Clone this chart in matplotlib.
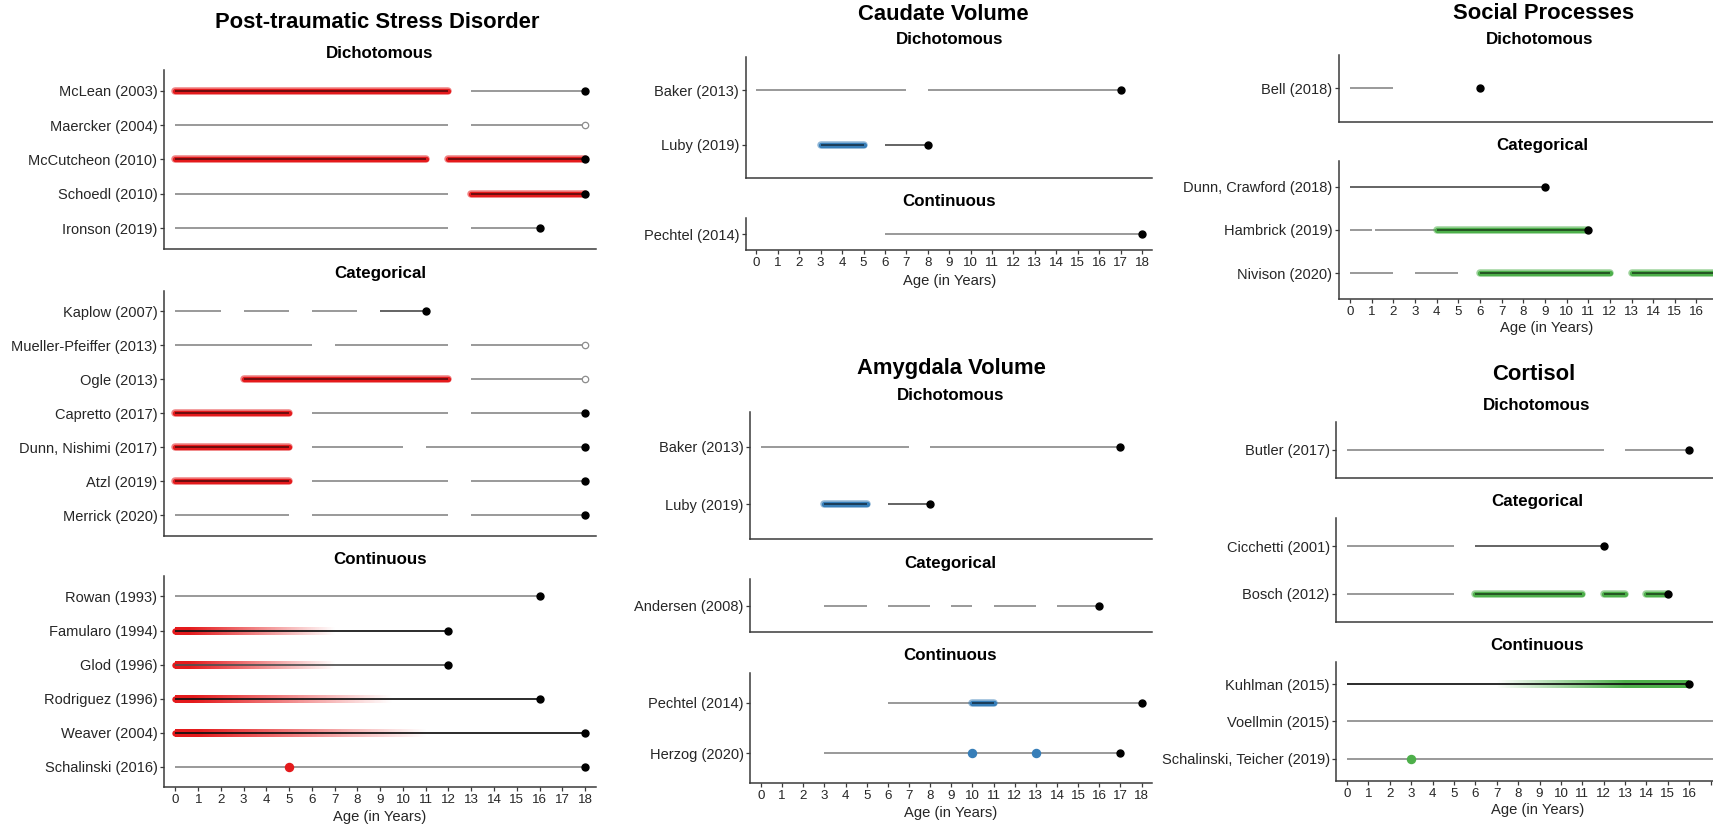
import numpy as np
import matplotlib
matplotlib.use("Agg")
import matplotlib.pyplot as plt
from matplotlib.collections import LineCollection
from matplotlib.colors import to_rgb

# ---------------------------------------------------------------------------
# Study timelines: each row lists its segments as (start_age, end_age, kind)
#   kind: "hit"  -> sensitive-period window (thick coloured band)
#         "gray" -> assessed age range, "dark" / "black" -> darker range lines
# ends: (age, "filled" | "open") marker at the age of outcome assessment
# ---------------------------------------------------------------------------

# Post-traumatic Stress Disorder
ptsd_dich_labels = ["McLean (2003)", "Maercker (2004)", "McCutcheon (2010)",
                    "Schoedl (2010)", "Ironson (2019)"]
ptsd_dich_segments = [
    [(0, 12, "hit"), (13, 18, "gray")],
    [(0, 12, "gray"), (13, 18, "gray")],
    [(0, 11, "hit"), (12, 18, "hit")],
    [(0, 12, "gray"), (13, 18, "hit")],
    [(0, 12, "gray"), (13, 16, "gray")],
]
ptsd_dich_ends = [(18, "filled"), (18, "open"), (18, "filled"), (18, "filled"), (16, "filled")]

ptsd_cat_labels = ["Kaplow (2007)", "Mueller-Pfeiffer (2013)", "Ogle (2013)",
                   "Capretto (2017)", "Dunn, Nishimi (2017)", "Atzl (2019)", "Merrick (2020)"]
ptsd_cat_segments = [
    [(0, 2, "gray"), (3, 5, "gray"), (6, 8, "gray"), (9, 11, "dark")],
    [(0, 6, "gray"), (7, 12, "gray"), (13, 18, "gray")],
    [(3, 12, "hit"), (13, 18, "gray")],
    [(0, 5, "hit"), (6, 12, "gray"), (13, 18, "gray")],
    [(0, 5, "hit"), (6, 10, "gray"), (11, 18, "gray")],
    [(0, 5, "hit"), (6, 12, "gray"), (13, 18, "gray")],
    [(0, 5, "gray"), (6, 12, "gray"), (13, 18, "gray")],
]
ptsd_cat_ends = [(11, "filled"), (18, "open"), (18, "open"), (18, "filled"),
                 (18, "filled"), (18, "filled"), (18, "filled")]

ptsd_cont_labels = ["Rowan (1993)", "Famularo (1994)", "Glod (1996)",
                    "Rodriguez (1996)", "Weaver (2004)", "Schalinski (2016)"]
ptsd_cont_segments = [
    [(0, 16, "gray")],
    [(0, 12, "black")],
    [(0, 12, "dark")],
    [(0, 16, "black")],
    [(0, 18, "black")],
    [(0, 18, "gray")],
]
ptsd_cont_ends = [(16, "filled"), (12, "filled"), (12, "filled"),
                  (16, "filled"), (18, "filled"), (18, "filled")]
# fading windows: (solid_from, solid_to, transparent_at)
ptsd_cont_fades = [None, (0, 0.6, 7), (0, 0.6, 7), (0, 0.8, 9.5), (0, 1.0, 11), None]
ptsd_cont_points = [[], [], [], [], [], [5]]

# Caudate Volume
caud_dich_labels = ["Baker (2013)", "Luby (2019)"]
caud_dich_segments = [
    [(0, 7, "gray"), (8, 17, "gray")],
    [(3, 5, "hit"), (6, 8, "dark")],
]
caud_dich_ends = [(17, "filled"), (8, "filled")]

caud_cont_labels = ["Pechtel (2014)"]
caud_cont_segments = [[(6, 18, "gray")]]
caud_cont_ends = [(18, "filled")]

# Amygdala Volume
amyg_dich_labels = ["Baker (2013)", "Luby (2019)"]
amyg_dich_segments = [
    [(0, 7, "gray"), (8, 17, "gray")],
    [(3, 5, "hit"), (6, 8, "dark")],
]
amyg_dich_ends = [(17, "filled"), (8, "filled")]

amyg_cat_labels = ["Andersen (2008)"]
amyg_cat_segments = [[(3, 5, "gray"), (6, 8, "gray"), (9, 10, "gray"),
                      (11, 13, "gray"), (14, 16, "gray")]]
amyg_cat_ends = [(16, "filled")]

amyg_cont_labels = ["Pechtel (2014)", "Herzog (2020)"]
amyg_cont_segments = [
    [(6, 18, "gray"), (10, 11, "hit")],
    [(3, 17, "gray")],
]
amyg_cont_ends = [(18, "filled"), (17, "filled")]
amyg_cont_points = [[], [10, 13]]

# Social Processes
soc_dich_labels = ["Bell (2018)"]
soc_dich_segments = [[(0, 2, "gray")]]
soc_dich_ends = [(6, "filled")]

soc_cat_labels = ["Dunn, Crawford (2018)", "Hambrick (2019)", "Nivison (2020)"]
soc_cat_segments = [
    [(0, 9, "dark")],
    [(0, 1, "gray"), (1.15, 4, "gray"), (4, 11, "hit")],
    [(0, 2, "gray"), (3, 5, "gray"), (6, 12, "hit"), (13, 18, "hit")],
]
soc_cat_ends = [(9, "filled"), (11, "filled"), (18, "filled")]

# Cortisol
cort_dich_labels = ["Butler (2017)"]
cort_dich_segments = [[(0, 12, "gray"), (13, 16, "gray")]]
cort_dich_ends = [(16, "filled")]

cort_cat_labels = ["Cicchetti (2001)", "Bosch (2012)"]
cort_cat_segments = [
    [(0, 5, "gray"), (6, 12, "dark")],
    [(0, 5, "gray"), (6, 11, "hit"), (12, 13, "hit"), (14, 15, "hit")],
]
cort_cat_ends = [(12, "filled"), (15, "filled")]

cort_cont_labels = ["Kuhlman (2015)", "Voellmin (2015)", "Schalinski, Teicher (2019)"]
cort_cont_segments = [
    [(0, 16, "black")],
    [(0, 18, "gray")],
    [(0, 18, "gray")],
]
cort_cont_ends = [(16, "filled"), (18, "filled"), (18, "filled")]
cort_cont_fades = [(16, 13, 7), None, None]
cort_cont_points = [[], [], [3]]

age_ticks = list(range(0, 19))

# ---------------------------------------------------------------------------
W, H, DPI = 1713, 827, 100
plt.rcParams["font.family"] = ["Liberation Sans", "DejaVu Sans"]

RED, BLUE, GREEN = "#E41A1C", "#377EB8", "#4DAF4A"
LINE_COLORS = {"gray": "#8C8C8C", "dark": "#505050", "black": "#111111"}
AXIS_COLOR = "#3A3A3A"
TEXT_COLOR = "#262626"
XMIN, XMAX = -0.5, 18.47

TITLE_SIZE, SUB_SIZE, YLAB_SIZE, XTICK_SIZE, XLAB_SIZE = 15.8, 12.2, 10.5, 9.6, 10.6
FADE_LW = 4.6  # points

fig = plt.figure(figsize=(W / DPI, H / DPI), dpi=DPI)


def px_box(left, top, right, bottom):
    return [left / W, 1 - bottom / H, (right - left) / W, (bottom - top) / H]


def put_text(x, y, s, size, bold=False, color="black"):
    fig.text(x / W, 1 - y / H, s, ha="center", va="center", fontsize=size,
             fontweight="bold" if bold else "normal", color=color)


def draw_fade(ax, y, fade, hue):
    """Band that is opaque from a to b and fades out linearly towards c."""
    a, b, c = fade
    rgb = to_rgb(hue)
    xs = np.linspace(a, c, 240)
    mids = (xs[:-1] + xs[1:]) / 2
    span = abs(c - b)
    dist = np.clip((np.abs(mids - a) - abs(b - a)) / span, 0, 1)
    segs = [[(xs[i], y), (xs[i + 1], y)] for i in range(len(xs) - 1)]
    cols = [(rgb[0], rgb[1], rgb[2], 1 - d) for d in dist]
    # no antialiasing so the short pieces join without seams
    ax.add_collection(LineCollection(segs, colors=cols, linewidths=FADE_LW,
                                     capstyle="butt", antialiaseds=False, zorder=2))
    # rounded end on the opaque side
    ax.plot(a, y, "o", ms=FADE_LW, color=hue, mew=0, zorder=2)


def draw_panel(box, labels, segments, ends, hue, fades=None, points=None,
               show_x=False, last_label=18):
    ax = fig.add_axes(px_box(*box))
    n = len(labels)
    ys = np.arange(n, 0, -1)
    for i, y in enumerate(ys):
        if fades is not None and fades[i] is not None:
            draw_fade(ax, y, fades[i], hue)
        for x0, x1, kind in segments[i]:
            if kind == "hit":
                ax.plot([x0, x1], [y, y], color=hue, lw=5.4, alpha=0.55,
                        solid_capstyle="round", zorder=3)
                ax.plot([x0, x1], [y, y], color=hue, lw=3.8,
                        solid_capstyle="round", zorder=3)
                ax.plot([x0, x1], [y, y], color="black", lw=1.2, alpha=0.6,
                        solid_capstyle="butt", zorder=4)
            else:
                ax.plot([x0, x1], [y, y], color=LINE_COLORS[kind], lw=1.25,
                        solid_capstyle="butt", zorder=3)
        if points is not None:
            for px in points[i]:
                ax.plot(px, y, "o", ms=5.8, color=hue, mec=hue, zorder=5)
        ex, kind = ends[i]
        if kind == "filled":
            ax.plot(ex, y, "o", ms=5.0, color="black", mec="black", zorder=6)
        elif kind == "open":
            ax.plot(ex, y, "o", ms=4.6, mfc="white", mec="#8C8C8C", mew=0.9, zorder=6)

    ax.set_xlim(XMIN, XMAX)
    ax.set_ylim(0.4, n + 0.6)
    ax.set_yticks(ys)
    ax.set_yticklabels(labels, fontsize=YLAB_SIZE, color=TEXT_COLOR)
    ax.set_xticks(age_ticks)
    ax.set_xticklabels([str(v) if v <= last_label else "" for v in age_ticks],
                       fontsize=XTICK_SIZE, color=TEXT_COLOR)
    for side in ("top", "right"):
        ax.spines[side].set_visible(False)
    for side in ("left", "bottom"):
        ax.spines[side].set_color(AXIS_COLOR)
        ax.spines[side].set_linewidth(1.1)
    ax.tick_params(axis="y", length=2.8, width=0.9, color=AXIS_COLOR, pad=2.0)
    ax.tick_params(axis="x", length=2.8, width=0.9, color=AXIS_COLOR, pad=2.0)
    if not show_x:
        ax.tick_params(axis="x", bottom=False, labelbottom=False)
    ax.set_facecolor("none")
    return ax


# ---- Post-traumatic Stress Disorder -------------------------------------
L, R = 164.1, 595.7
draw_panel((L, 70, R, 249), ptsd_dich_labels, ptsd_dich_segments, ptsd_dich_ends, RED)
draw_panel((L, 290.7, R, 535.7), ptsd_cat_labels, ptsd_cat_segments, ptsd_cat_ends, RED)
draw_panel((L, 576, R, 787.3), ptsd_cont_labels, ptsd_cont_segments, ptsd_cont_ends, RED,
           fades=ptsd_cont_fades, points=ptsd_cont_points, show_x=True)
put_text(377.5, 22, "Post-traumatic Stress Disorder", TITLE_SIZE, bold=True)
put_text(380, 53, "Dichotomous", SUB_SIZE, bold=True)
put_text(380, 273.5, "Categorical", SUB_SIZE, bold=True)
put_text(380, 560, "Continuous", SUB_SIZE, bold=True)
put_text(380, 816.7, "Age (in Years)", XLAB_SIZE, color=TEXT_COLOR)

# ---- Caudate Volume -------------------------------------------------------
L, R = 745.7, 1152.1
draw_panel((L, 57.3, R, 177.7), caud_dich_labels, caud_dich_segments, caud_dich_ends, BLUE)
draw_panel((L, 218.3, R, 250), caud_cont_labels, caud_cont_segments, caud_cont_ends, BLUE,
           show_x=True)
put_text(943.5, 15, "Caudate Volume", TITLE_SIZE, bold=True)
put_text(949.4, 40, "Dichotomous", SUB_SIZE, bold=True)
put_text(949.4, 201.7, "Continuous", SUB_SIZE, bold=True)
put_text(949.8, 281, "Age (in Years)", XLAB_SIZE, color=TEXT_COLOR)

# ---- Amygdala Volume ------------------------------------------------------
L, R = 750.4, 1151.5
draw_panel((L, 412.3, R, 538.7), amyg_dich_labels, amyg_dich_segments, amyg_dich_ends, BLUE)
draw_panel((L, 579.3, R, 631.7), amyg_cat_labels, amyg_cat_segments, amyg_cat_ends, BLUE)
draw_panel((L, 672.7, R, 783.3), amyg_cont_labels, amyg_cont_segments, amyg_cont_ends, BLUE,
           points=amyg_cont_points, show_x=True)
put_text(951.9, 368.3, "Amygdala Volume", TITLE_SIZE, bold=True)
put_text(950.3, 395.7, "Dichotomous", SUB_SIZE, bold=True)
put_text(950.3, 563.3, "Categorical", SUB_SIZE, bold=True)
put_text(950.3, 656, "Continuous", SUB_SIZE, bold=True)
put_text(950.3, 813.3, "Age (in Years)", XLAB_SIZE, color=TEXT_COLOR)

# ---- Social Processes -----------------------------------------------------
L, R = 1339.1, 1750
draw_panel((L, 55, R, 121.7), soc_dich_labels, soc_dich_segments, soc_dich_ends, GREEN)
draw_panel((L, 160.7, R, 299), soc_cat_labels, soc_cat_segments, soc_cat_ends, GREEN,
           show_x=True, last_label=16)
put_text(1543.2, 13.3, "Social Processes", TITLE_SIZE, bold=True)
put_text(1539.6, 39.3, "Dichotomous", SUB_SIZE, bold=True)
put_text(1542.3, 145.7, "Categorical", SUB_SIZE, bold=True)
put_text(1546.3, 328.3, "Age (in Years)", XLAB_SIZE, color=TEXT_COLOR)

# ---- Cortisol ---------------------------------------------------------------
L, R = 1336.4, 1742
draw_panel((L, 421.7, R, 477.7), cort_dich_labels, cort_dich_segments, cort_dich_ends, GREEN)
draw_panel((L, 517.7, R, 622.3), cort_cat_labels, cort_cat_segments, cort_cat_ends, GREEN)
draw_panel((L, 661.7, R, 781), cort_cont_labels, cort_cont_segments, cort_cont_ends, GREEN,
           fades=cort_cont_fades, points=cort_cont_points, show_x=True, last_label=16)
put_text(1533.2, 375, "Cortisol", TITLE_SIZE, bold=True)
put_text(1537, 405.7, "Dichotomous", SUB_SIZE, bold=True)
put_text(1537.5, 501.7, "Categorical", SUB_SIZE, bold=True)
put_text(1537, 645.7, "Continuous", SUB_SIZE, bold=True)
put_text(1537.5, 810, "Age (in Years)", XLAB_SIZE, color=TEXT_COLOR)

fig.savefig("out.png", dpi=DPI, facecolor="white")
